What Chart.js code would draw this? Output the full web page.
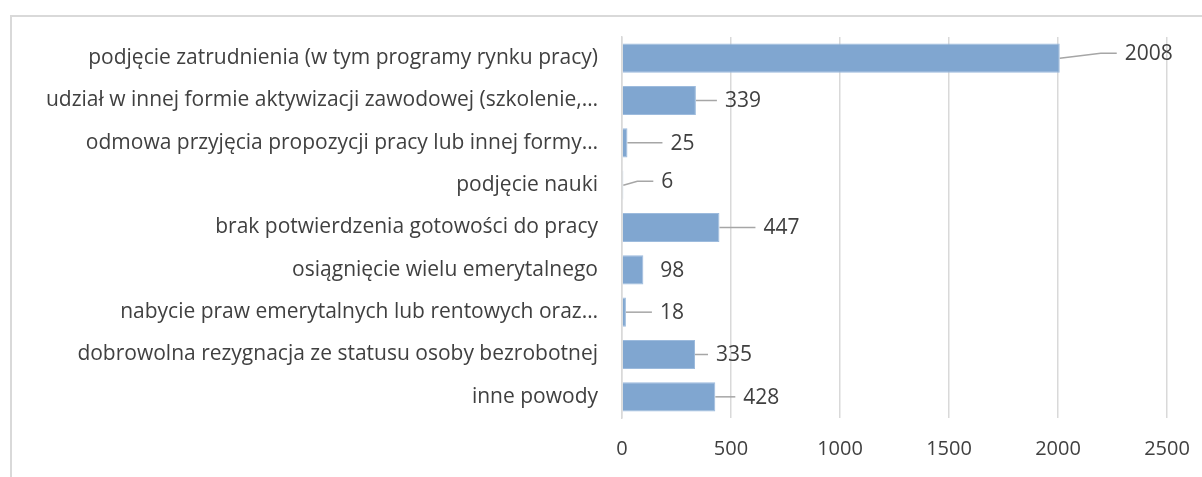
<!DOCTYPE html>
<html>
<head>
<meta charset="utf-8">
<script src="https://cdn.jsdelivr.net/npm/chart.js@4/dist/chart.umd.min.js"></script>
<style>
    body { margin: 0; background: #fff; }
    #wrap { position: relative; width: 1202px; height: 477px; overflow: hidden; }
    #frame {
        position: absolute; left: 10px; top: 15px;
        width: 1300px; height: 600px;
        border: 2px solid #d9d9d9;
    }
    canvas { position: absolute; left: 0; top: 0; }
</style>
</head>
<body>
<div id="wrap">
    <div id="frame"></div>
    <canvas id="chart" width="1202" height="477"></canvas>
</div>
<script>
// categories and values
const categories = [
    "podjęcie zatrudnienia (w tym programy rynku pracy)",
    "udział w innej formie aktywizacji zawodowej (szkolenie,…",
    "odmowa przyjęcia propozycji pracy lub innej formy…",
    "podjęcie nauki",
    "brak potwierdzenia gotowości do pracy",
    "osiągnięcie wielu emerytalnego",
    "nabycie praw emerytalnych lub rentowych oraz…",
    "dobrowolna rezygnacja ze statusu osoby bezrobotnej",
    "inne powody",
];
const values = [2008, 339, 25, 6, 447, 98, 18, 335, 428];
const xTicks = [0, 500, 1000, 1500, 2000, 2500];

// label placement relative to bar end (px): [dx, dy]
const labelOffsets = [[65, -5], [29, 0], [43, 0], [38, -4], [44, 0], [17, 0], [34, 0], [21, 0], [28, 0]];

const FONT = "'Open Sans', sans-serif";
const TEXT = "#404040";

const leaderLabels = {
    id: "leaderLabels",
    afterDatasetsDraw(chart) {
        const ctx = chart.ctx;
        const meta = chart.getDatasetMeta(0);
        ctx.save();
        ctx.font = "21px " + FONT;
        ctx.fillStyle = TEXT;
        ctx.textBaseline = "middle";
        ctx.textAlign = "left";
        meta.data.forEach((bar, i) => {
            const [dx, dy] = labelOffsets[i];
            const x0 = bar.x;
            const y0 = bar.y;
            const lx = x0 + dx;
            const ly = y0 + dy;
            if (dx > 20) {
                ctx.beginPath();
                ctx.strokeStyle = "#a6a6a6";
                ctx.lineWidth = 1.5;
                ctx.moveTo(x0, y0);
                if (dy !== 0) {
                    ctx.lineTo(lx - 24, ly);
                }
                ctx.lineTo(lx - 8, ly);
                ctx.stroke();
            }
            ctx.fillText(String(values[i]), lx, ly + 1);
        });
        ctx.restore();
    },
};

new Chart(document.getElementById("chart"), {
    type: "bar",
    data: {
        labels: categories,
        datasets: [
            {
                data: values,
                backgroundColor: "#80a6d0",
                borderColor: "#9dbbdd",
                borderWidth: 1,
                barPercentage: 0.69,
                categoryPercentage: 1,
            },
        ],
    },
    options: {
        indexAxis: "y",
        responsive: false,
        animation: false,
        layout: { padding: { top: 37, right: 35, bottom: 0, left: 0 } },
        plugins: {
            legend: { display: false },
            tooltip: { enabled: false },
        },
        scales: {
            x: {
                min: 0,
                max: 2500,
                afterBuildTicks(axis) {
                    axis.ticks = xTicks.map((v) => ({ value: v }));
                },
                afterFit(axis) {
                    axis.height = 59;
                    axis.paddingLeft = 0;
                    axis.paddingRight = 0;
                },
                grid: { color: "#d9d9d9", lineWidth: 1.5, drawTicks: false },
                border: { display: false },
                ticks: {
                    padding: 19,
                    color: TEXT,
                    font: { family: FONT, size: 20 },
                    callback: (v) => String(v),
                },
            },
            y: {
                afterFit(axis) {
                    axis.width = 622;
                },
                grid: { display: false, drawTicks: false },
                border: { display: true, color: "#d9d9d9", width: 1.5 },
                ticks: {
                    padding: 24,
                    color: TEXT,
                    autoSkip: false,
                    font: { family: FONT, size: 21 },
                },
            },
        },
    },
    plugins: [leaderLabels],
});
</script>
</body>
</html>
